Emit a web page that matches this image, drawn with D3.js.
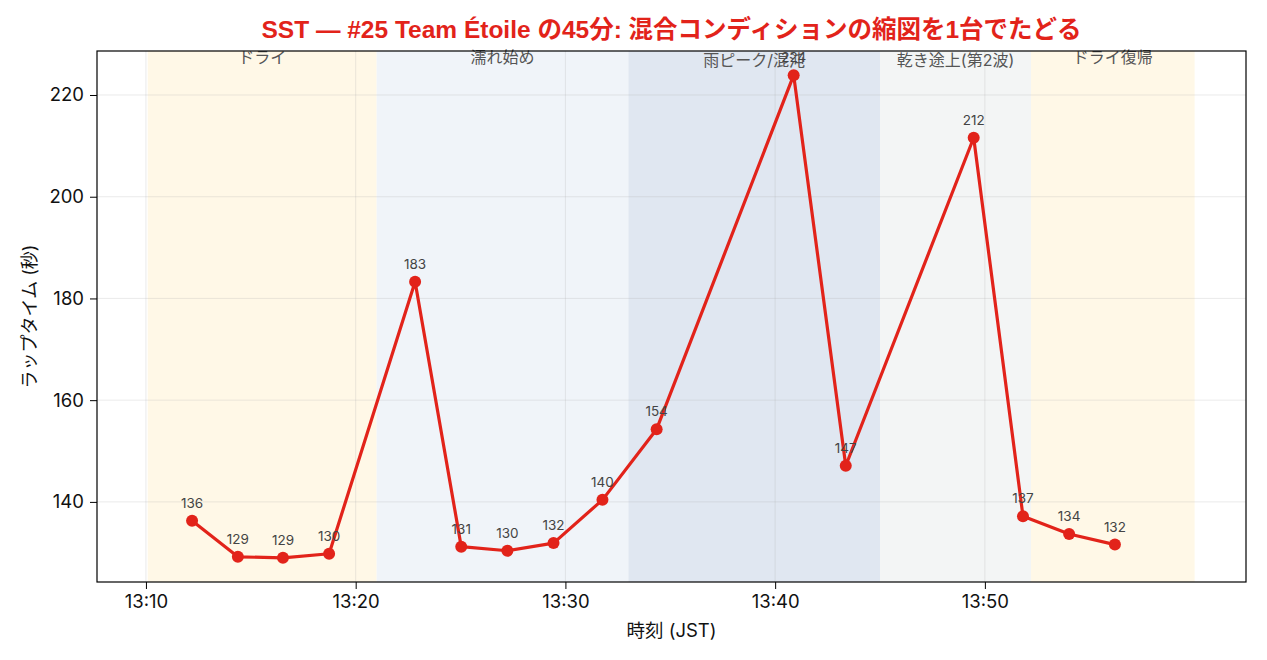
<!DOCTYPE html>
<html lang="ja">
<head>
  <meta charset="UTF-8">
  <title>SST #25 Team Étoile lap times</title>
  <script src="https://d3js.org/d3.v7.min.js"></script>
  <style>
    body { margin: 0; background: #fff; }
    svg text { font-family: Inter, "Noto Sans CJK JP", sans-serif; }
  </style>
</head>
<body>
<svg id="chart" width="1267" height="660"></svg>

<script>
// lap end times (JST) and lap times in seconds
const times = ["13:12:12", "13:14:23", "13:16:32", "13:18:44", "13:22:50", "13:25:02",
  "13:27:14", "13:29:26", "13:31:46", "13:34:21", "13:40:53", "13:43:22",
  "13:49:28", "13:51:49", "13:54:01", "13:56:12"];
const lapTimes = [136.3, 129.2, 129.0, 129.8, 183.3, 131.2, 130.4, 131.9,
  140.4, 154.3, 223.9, 147.1, 211.6, 137.2, 133.7, 131.6];

// track condition phases
const phaseNames = ["ドライ", "濡れ始め", "雨ピーク/混沌", "乾き途上(第2波)", "ドライ復帰"];
const phaseStart = ["13:10:05", "13:21:00", "13:33:00", "13:45:00", "13:52:12"];
const phaseEnd   = ["13:21:00", "13:33:00", "13:45:00", "13:52:12", "14:00:00"];
const phaseColors = ["#fff8e7", "#f0f4f9", "#e0e7f1", "#f3f5f5", "#fff8e7"];

const xTicks = ["13:10:00", "13:20:00", "13:30:00", "13:40:00", "13:50:00"];
const yTicks = [140, 160, 180, 200, 220];

const parse = d3.timeParse("%H:%M:%S");

const svg = d3.select("#chart");
const margin = { top: 51, right: 21, bottom: 78, left: 97 };
const width = +svg.attr("width");
const height = +svg.attr("height");
const innerWidth = width - margin.left - margin.right;
const innerHeight = height - margin.top - margin.bottom;

const x = d3.scaleTime()
  .domain([parse("13:07:40"), parse("14:02:27")])
  .range([0, innerWidth]);
const y = d3.scaleLinear().domain([124.25, 228.65]).range([innerHeight, 0]);

const g = svg.append("g").attr("transform", `translate(${margin.left},${margin.top})`);

// phase bands
g.selectAll("rect.phase")
  .data(phaseNames)
  .join("rect")
  .attr("class", "phase")
  .attr("x", (d, i) => x(parse(phaseStart[i])))
  .attr("width", (d, i) => x(parse(phaseEnd[i])) - x(parse(phaseStart[i])))
  .attr("y", 0)
  .attr("height", innerHeight)
  .attr("fill", (d, i) => phaseColors[i]);

// grid
g.selectAll("line.vgrid")
  .data(xTicks)
  .join("line")
  .attr("x1", d => x(parse(d))).attr("x2", d => x(parse(d)))
  .attr("y1", 0).attr("y2", innerHeight)
  .attr("stroke", "#b0b0b0").attr("stroke-opacity", 0.25).attr("stroke-width", 1);

g.selectAll("line.hgrid")
  .data(yTicks)
  .join("line")
  .attr("x1", 0).attr("x2", innerWidth)
  .attr("y1", d => y(d)).attr("y2", d => y(d))
  .attr("stroke", "#b0b0b0").attr("stroke-opacity", 0.25).attr("stroke-width", 1);

// phase labels
g.selectAll("text.phase")
  .data(phaseNames)
  .join("text")
  .attr("x", (d, i) => (x(parse(phaseStart[i])) + x(parse(phaseEnd[i]))) / 2)
  .attr("y", (d, i) => (i === 2 || i === 3) ? 15 : 12)
  .attr("text-anchor", "middle")
  .attr("font-size", 16)
  .attr("fill", "#555")
  .text(d => d);

// axes
const xAxis = d3.axisBottom(x)
  .tickValues(xTicks.map(parse))
  .tickFormat(d3.timeFormat("%H:%M"))
  .tickSizeOuter(0).tickSize(7).tickPadding(6);
const yAxis = d3.axisLeft(y).tickValues(yTicks).tickSizeOuter(0).tickSize(7).tickPadding(6);

const gx = g.append("g").attr("transform", `translate(0,${innerHeight})`).call(xAxis);
const gy = g.append("g").call(yAxis);
[gx, gy].forEach(a => {
  a.select(".domain").remove();
  a.selectAll("line").attr("stroke", "#000");
  a.selectAll("text").attr("font-size", 18.5).attr("fill", "#111");
});

// frame
g.append("rect")
  .attr("width", innerWidth).attr("height", innerHeight)
  .attr("fill", "none").attr("stroke", "#000").attr("stroke-width", 1.2);

// lap line
const pts = times.map((t, i) => ({ t: parse(t), v: lapTimes[i] }));

g.append("path")
  .datum(pts)
  .attr("fill", "none")
  .attr("stroke", "#e2231a")
  .attr("stroke-width", 3.2)
  .attr("stroke-linejoin", "round")
  .attr("d", d3.line().x(d => x(d.t)).y(d => y(d.v)));

g.selectAll("circle.pt")
  .data(pts)
  .join("circle")
  .attr("cx", d => x(d.t))
  .attr("cy", d => y(d.v))
  .attr("r", 6)
  .attr("fill", "#e2231a");

g.selectAll("text.val")
  .data(pts)
  .join("text")
  .attr("x", d => x(d.t))
  .attr("y", d => y(d.v) - 13)
  .attr("text-anchor", "middle")
  .attr("font-size", 13.5)
  .attr("fill", "#444")
  .text(d => Math.round(d.v));

// title and axis labels
svg.append("text")
  .attr("x", margin.left + innerWidth / 2)
  .attr("y", 38)
  .attr("text-anchor", "middle")
  .attr("font-size", 24.5)
  .attr("font-weight", "bold")
  .attr("fill", "#e2231a")
  .style("font-family", '"Liberation Sans", "Noto Sans CJK JP", sans-serif')
  .text("SST — #25 Team Étoile の45分: 混合コンディションの縮図を1台でたどる");

svg.append("text")
  .attr("x", margin.left + innerWidth / 2)
  .attr("y", 637)
  .attr("text-anchor", "middle")
  .attr("font-size", 18.5)
  .attr("fill", "#111")
  .text("時刻 (JST)");

svg.append("text")
  .attr("transform", "rotate(-90)")
  .attr("x", -(margin.top + innerHeight / 2))
  .attr("y", 36)
  .attr("text-anchor", "middle")
  .attr("font-size", 18)
  .attr("fill", "#111")
  .text("ラップタイム (秒)");
</script>
</body>
</html>
